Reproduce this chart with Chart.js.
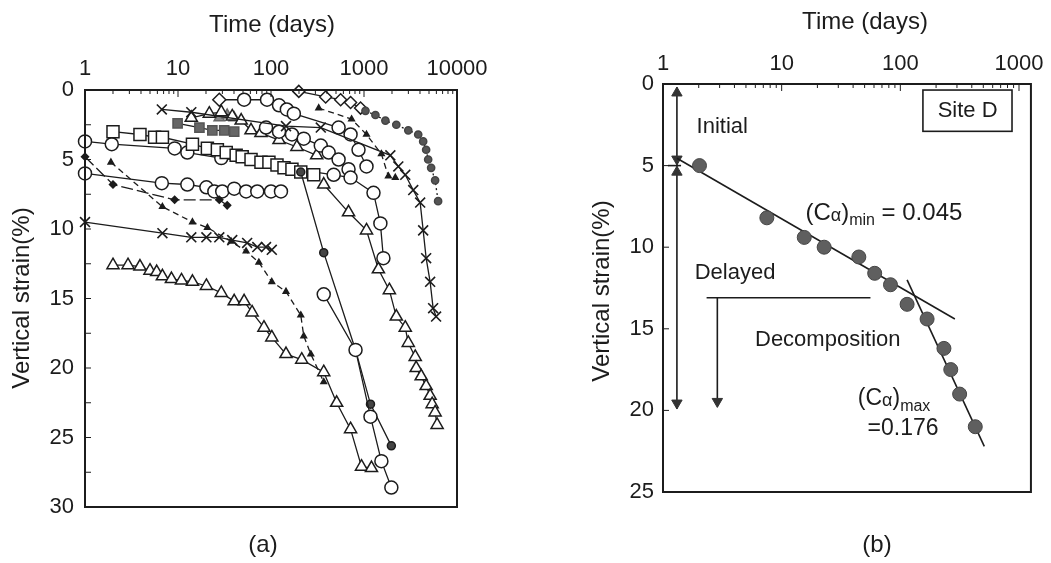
<!DOCTYPE html>
<html>
<head>
<meta charset="utf-8">
<title>Vertical strain vs time</title>
<script src="https://cdn.jsdelivr.net/npm/chart.js@4.4.1/dist/chart.umd.min.js"></script>
<style>
  html, body { margin: 0; padding: 0; background: #fff; }
  #wrap { position: relative; width: 1051px; height: 563px; }
  .panel { position: absolute; top: 0; height: 563px; }
  #panelA { left: 0; width: 520px; }
  #panelB { left: 530px; width: 521px; }
</style>
</head>
<body>
<div id="wrap">
  <div class="panel" id="panelA"><canvas id="chartA"></canvas></div>
  <div class="panel" id="panelB"><canvas id="chartB"></canvas></div>
</div>
<script>
// ---- (a) settlement records, time in days / vertical strain in % ----
const triLowDays = [2, 2.9, 3.9, 5, 5.9, 6.8, 8.5, 10.9, 14.3, 20.2, 29.2, 40.2, 51.4, 62.6, 84, 102, 145, 214, 369, 508, 717, 940, 1203];
const triLowStrain = [12.6, 12.6, 12.7, 13.0, 13.1, 13.4, 13.6, 13.7, 13.8, 14.1, 14.6, 15.2, 15.2, 16.0, 17.1, 17.8, 19.0, 19.4, 20.3, 22.5, 24.4, 27.1, 27.2];

const dashTriDays = [1.9, 6.8, 14.3, 20.7, 37.3, 54, 74, 102, 145, 209, 225, 268, 369];
const dashTriStrain = [5.2, 8.4, 9.5, 9.9, 10.9, 11.6, 12.4, 13.8, 14.5, 16.2, 17.7, 19.0, 21.0];

const crossLowDays = [1, 6.8, 13.9, 20.2, 27.8, 38.3, 55.4, 71.2, 88.4, 102];
const crossLowStrain = [9.5, 10.3, 10.6, 10.6, 10.6, 10.8, 11.0, 11.3, 11.3, 11.5];

const dashDiaDays = [1, 2, 9.2, 27.8, 33.8];
const dashDiaStrain = [4.8, 6.8, 7.9, 7.9, 8.3];

const ringMidDays = [1, 6.7, 12.6, 20.2, 24.6, 29.9, 40.2, 54, 71.2, 100, 128];
const ringMidStrain = [6.0, 6.7, 6.8, 7.0, 7.3, 7.3, 7.1, 7.3, 7.3, 7.3, 7.3];

const squareDays = [2, 3.9, 5.6, 6.8, 14.3, 20.7, 26.5, 33, 42.2, 49, 61, 78, 95, 116, 138, 168, 209, 288];
const squareStrain = [3.0, 3.2, 3.4, 3.4, 3.9, 4.2, 4.3, 4.5, 4.7, 4.8, 5.0, 5.2, 5.2, 5.4, 5.6, 5.7, 5.9, 6.1];

const ringLeftDays = [1, 1.94, 9.2, 12.6, 29.2, 472, 717, 1265, 1500, 1617];
const ringLeftStrain = [3.7, 3.9, 4.2, 4.5, 4.9, 6.1, 6.3, 7.4, 9.6, 12.1];

const dotSteepDays = [209, 369, 811, 1174, 1968];
const dotSteepStrain = [5.9, 11.7, 18.7, 22.6, 25.6];

const ringSteepDays = [369, 811, 1174, 1538, 1968];
const ringSteepStrain = [14.7, 18.7, 23.5, 26.7, 28.6];

const triRightDays = [369, 682, 1064, 1429, 1874, 2226, 2778, 2992, 3556, 3640, 4121, 4658, 5142, 5404, 5816, 6112];
const triRightStrain = [6.8, 8.8, 10.1, 12.9, 14.4, 16.3, 17.1, 18.2, 19.2, 20.0, 20.6, 21.3, 22.0, 22.6, 23.2, 24.1];

const crossRightDays = [6.7, 13.9, 145, 343, 1920, 2339, 2778, 3384, 4018, 4327, 4658, 5142, 5539, 5959];
const crossRightStrain = [1.4, 1.6, 2.6, 2.7, 4.7, 5.5, 6.1, 7.2, 8.1, 10.1, 12.1, 13.8, 15.7, 16.3];

const dotRightDays = [1037, 1327, 1698, 2226, 2992, 3828, 4327, 4658, 4897, 5271, 5816, 6265];
const dotRightStrain = [1.5, 1.8, 2.2, 2.5, 2.9, 3.2, 3.7, 4.3, 5.0, 5.6, 6.5, 8.0];

const diaTopDays = [199, 387, 561, 717, 918];
const diaTopStrain = [0.1, 0.5, 0.7, 0.9, 1.3];

const ringTopDays = [27.8, 51.4, 90.6, 122, 148, 176, 533, 717, 873, 1064];
const ringTopStrain = [0.7, 0.7, 0.7, 1.1, 1.4, 1.7, 2.7, 3.2, 4.3, 5.5];

const ringUpDays = [88.4, 122, 168, 225, 343, 417, 533, 682];
const ringUpStrain = [2.7, 3.0, 3.2, 3.5, 4.0, 4.5, 5.0, 5.7];

const triUpDays = [13.9, 21.7, 29.2, 38.3, 47.8, 61, 78, 122, 190, 310];
const triUpStrain = [2.0, 1.7, 1.6, 1.9, 2.2, 2.9, 3.1, 3.6, 4.1, 4.7];

const blockDays = [9.9, 17, 23.4, 31.4, 40.2];
const blockStrain = [2.4, 2.7, 2.9, 2.9, 3.0];

const greyTriDays = [27.8, 33.8, 40.2];
const greyTriStrain = [2.0, 1.8, 2.0];

const dashTriUpDays = [326, 735, 1064, 1538, 1828, 2171];
const dashTriUpStrain = [1.3, 2.1, 3.2, 4.6, 6.2, 6.3];

// ---- (b) Site D ----
const siteDays = [2.03, 7.5, 15.5, 22.8, 44.7, 60.8, 82.6, 114, 168, 233, 266, 316, 428];
const siteStrain = [5.0, 8.2, 9.4, 10.0, 10.6, 11.6, 12.3, 13.5, 14.4, 16.2, 17.5, 19.0, 21.0];
const minFitDays = [1.31, 288];
const minFitStrain = [4.55, 14.4];
const maxFitDays = [114, 510];
const maxFitStrain = [12.0, 22.2];
// phase arrows: initial / delayed span, tick at 5 %, decomposition start
const initialArrowDays = [1.31, 1.31];
const initialArrowStrain = [0.2, 19.9];
const headDays = [1.31, 1.31, 1.31, 1.31, 2.87];
const headStrain = [0.55, 4.6, 5.4, 19.55, 19.45];
const tickDays = [1.1, 1.42];
const tickStrain = [5, 5];
const delayLineDays = [2.33, 56];
const delayLineStrain = [13.1, 13.1];
const decompArrowDays = [2.87, 2.87];
const decompArrowStrain = [13.1, 19.6];

const decades = [1, 10, 100, 1000, 10000];

const INK = '#1c1c1c';
const FONT = "'Liberation Sans', Arial, sans-serif";
Chart.defaults.font.family = FONT;
Chart.defaults.color = INK;

function series(days, strain, look) {
    return Object.assign({
        data: days.map((d, i) => ({x: d, y: strain[i]})),
        showLine: true,
        clip: false,
        borderColor: INK,
        borderWidth: 1.3,
        pointStyle: 'circle',
        pointRadius: 6.5,
        pointBorderColor: INK,
        pointBorderWidth: 1.5,
        pointBackgroundColor: '#fff'
    }, look);
}

const open = {};
const openTri = {pointStyle: 'triangle', pointRadius: 7};
const openSquare = {pointStyle: 'rect', pointRadius: 8.5};
const cross = {pointStyle: 'crossRot', pointRadius: 7, pointBorderWidth: 1.6};
const smallTri = {pointStyle: 'triangle', pointRadius: 3.2, pointBackgroundColor: INK, borderDash: [6, 4]};

// frame, inner ticks and free text drawn on top of the chart
const frame = {
    id: 'frame',
    afterDraw(chart, args, o) {
        const {ctx, chartArea: a} = chart;
        const x = chart.scales.x, y = chart.scales.y;
        ctx.save();
        ctx.strokeStyle = INK;
        ctx.lineWidth = 1;
        ctx.beginPath();
        for (let d = 1; d <= x.max; d *= 10) {
            for (let k = 1; k < 10; k++) {
                const v = d * k;
                if (v > x.max) break;
                const px = x.getPixelForValue(v);
                ctx.moveTo(px, a.top);
                ctx.lineTo(px, a.top + (k === 1 ? 7 : 4));
            }
        }
        for (let v = o.yStep; v < y.max; v += o.yStep) {
            const py = y.getPixelForValue(v);
            ctx.moveTo(a.left, py);
            ctx.lineTo(a.left + 6, py);
        }
        ctx.stroke();
        ctx.lineWidth = 2;
        ctx.strokeRect(a.left, a.top, a.right - a.left, a.bottom - a.top);

        ctx.fillStyle = INK;
        ctx.textBaseline = 'middle';
        (o.texts || []).forEach(t => {
            let px = t.px, py = t.py;
            if (t.days !== undefined) {
                px = x.getPixelForValue(t.days);
                py = y.getPixelForValue(t.strain);
            }
            ctx.save();
            ctx.translate(px, py);
            if (t.rotate) ctx.rotate(t.rotate);
            ctx.textAlign = t.align || 'center';
            const runs = t.runs || [{text: t.text, size: t.size || 22}];
            let cx = 0;
            runs.forEach(r => {
                ctx.font = r.size + 'px ' + FONT;
                ctx.fillText(r.text, cx, r.dy || 0);
                cx += ctx.measureText(r.text).width;
            });
            ctx.restore();
        });
        if (o.box) {
            const x0 = x.getPixelForValue(o.box.days[0]), x1 = x.getPixelForValue(o.box.days[1]);
            const y0 = y.getPixelForValue(o.box.strain[0]), y1 = y.getPixelForValue(o.box.strain[1]);
            ctx.lineWidth = 1.6;
            ctx.strokeRect(x0, y0, x1 - x0, y1 - y0);
        }
        ctx.restore();
    }
};

function logAxis(max, height, pad) {
    return {
        type: 'logarithmic',
        position: 'top',
        min: 1,
        max: max,
        grid: {display: false, drawTicks: false},
        border: {display: false},
        afterBuildTicks: s => { s.ticks = decades.filter(v => v <= s.max).map(v => ({value: v})); },
        afterFit: s => { s.height = height; },
        ticks: {autoSkip: false, maxRotation: 0, padding: pad, font: {size: 22}, callback: v => String(v)}
    };
}

function strainAxis(max, width, pad) {
    return {
        reverse: true,
        min: 0,
        max: max,
        grid: {display: false, drawTicks: false},
        border: {display: false},
        afterFit: s => { s.width = width; },
        ticks: {stepSize: 5, padding: pad, font: {size: 22}}
    };
}

const baseOptions = {
    responsive: true,
    maintainAspectRatio: false,
    animation: false,
    plugins: {legend: {display: false}, tooltip: {enabled: false}}
};

new Chart(document.getElementById('chartA'), {
    type: 'scatter',
    data: {
        datasets: [
            series(ringSteepDays, ringSteepStrain, open),
            series(dotSteepDays, dotSteepStrain, {pointRadius: 4, pointBackgroundColor: '#444'}),
            series(triLowDays, triLowStrain, openTri),
            series(dashTriDays, dashTriStrain, smallTri),
            series(crossLowDays, crossLowStrain, cross),
            series(dashDiaDays, dashDiaStrain, {pointStyle: 'rectRot', pointRadius: 3.5, pointBackgroundColor: INK, borderDash: [12, 4]}),
            series(ringMidDays, ringMidStrain, open),
            series(squareDays, squareStrain, openSquare),
            series(ringLeftDays, ringLeftStrain, open),
            series(triRightDays, triRightStrain, openTri),
            series(crossRightDays, crossRightStrain, cross),
            series(dotRightDays, dotRightStrain, {pointRadius: 3.6, pointBackgroundColor: '#555', pointBorderColor: '#444', borderDash: [2, 3]}),
            series(diaTopDays, diaTopStrain, {pointStyle: 'rectRot', pointRadius: 6}),
            series(ringTopDays, ringTopStrain, {pointStyle: ringTopDays.map((d, i) => i === 0 ? 'rectRot' : 'circle')}),
            series(ringUpDays, ringUpStrain, open),
            series(dashTriUpDays, dashTriUpStrain, smallTri),
            series(triUpDays, triUpStrain, openTri),
            series(greyTriDays, greyTriStrain, {pointStyle: 'triangle', pointRadius: 6, pointBackgroundColor: '#888', pointBorderColor: '#666'}),
            series(blockDays, blockStrain, {pointStyle: 'rect', pointRadius: 6.5, pointBackgroundColor: '#666', pointBorderColor: '#555'})
        ]
    },
    options: Object.assign({}, baseOptions, {
        layout: {padding: {left: 0, top: 0, right: 63, bottom: 56}},
        scales: {x: logAxis(10000, 90, 8), y: strainAxis(30, 85, 11)},
        plugins: Object.assign({}, baseOptions.plugins, {
            frame: {
                yStep: 2.5,
                texts: [
                    {text: 'Time (days)', px: 272, py: 25, size: 24},
                    {text: 'Vertical strain(%)', px: 22, py: 298, size: 24, rotate: -Math.PI / 2},
                    {text: '(a)', px: 263, py: 545, size: 24}
                ]
            }
        })
    }),
    plugins: [frame]
});

const line = {pointRadius: 0, borderWidth: 1.6};

new Chart(document.getElementById('chartB'), {
    type: 'scatter',
    data: {
        datasets: [
            series(siteDays, siteStrain, {showLine: false, pointRadius: 7, pointBackgroundColor: '#5f5f5f', pointBorderColor: '#454545', pointBorderWidth: 1}),
            series(minFitDays, minFitStrain, line),
            series(maxFitDays, maxFitStrain, line),
            series(headDays, headStrain, {showLine: false, pointStyle: 'triangle', pointRadius: 6, pointRotation: [0, 180, 0, 180, 180], pointBackgroundColor: '#333', pointBorderColor: '#333', pointBorderWidth: 1}),
            series(initialArrowDays, initialArrowStrain, line),
            series(tickDays, tickStrain, line),
            series(delayLineDays, delayLineStrain, line),
            series(decompArrowDays, decompArrowStrain, line)
        ]
    },
    options: Object.assign({}, baseOptions, {
        layout: {padding: {left: 0, top: 0, right: 16, bottom: 71}},
        scales: {x: logAxis(1260, 84, 7), y: strainAxis(25, 133, 9)},
        plugins: Object.assign({}, baseOptions.plugins, {
            frame: {
                yStep: 5,
                box: {days: [155, 873], strain: [0.37, 2.9]},
                texts: [
                    {text: 'Time (days)', px: 335, py: 22, size: 24},
                    {text: 'Vertical strain(%)', px: 72, py: 291, size: 24, rotate: -Math.PI / 2},
                    {text: '(b)', px: 347, py: 545, size: 24},
                    {text: 'Site D', days: 369, strain: 1.65},
                    {text: 'Initial', days: 1.92, strain: 2.65, align: 'left'},
                    {text: 'Delayed', days: 1.85, strain: 11.6, align: 'left'},
                    {text: 'Decomposition', days: 5.96, strain: 15.7, align: 'left'},
                    {days: 15.85, strain: 7.9, align: 'left', runs: [
                        {text: '(C', size: 24}, {text: 'α', size: 18, dy: 3}, {text: ')', size: 24},
                        {text: 'min', size: 16, dy: 8}, {text: ' = 0.045', size: 24}]},
                    {days: 43.8, strain: 19.26, align: 'left', runs: [
                        {text: '(C', size: 23}, {text: 'α', size: 18, dy: 3}, {text: ')', size: 23},
                        {text: 'max', size: 16, dy: 8}]},
                    {text: '=0.176', days: 53, strain: 21.1, align: 'left', size: 23}
                ]
            }
        })
    }),
    plugins: [frame]
});
</script>
</body>
</html>
